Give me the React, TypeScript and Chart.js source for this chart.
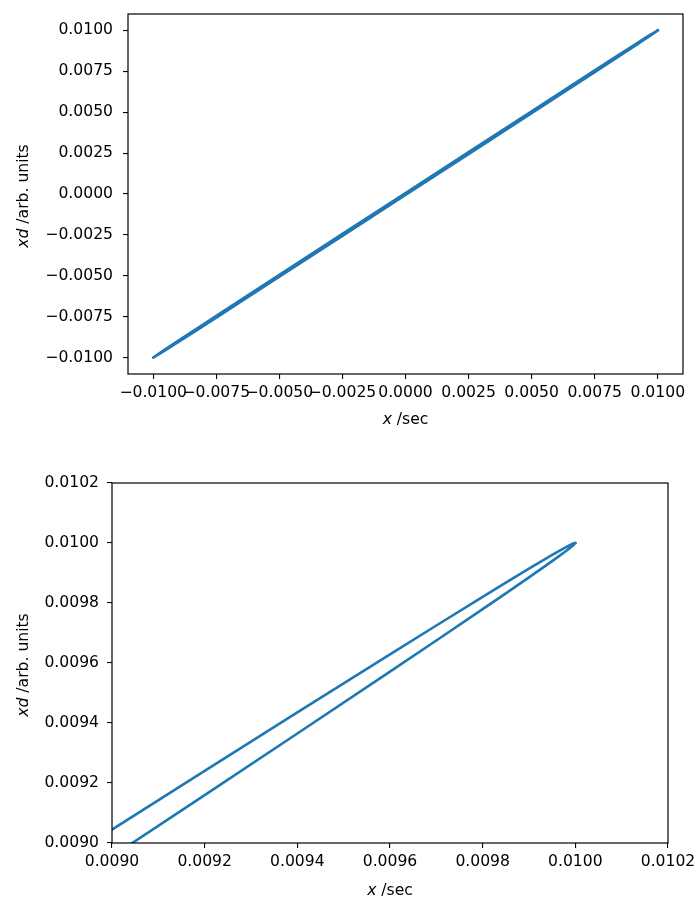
import React, { useEffect, useRef } from 'react';
import { Chart, registerables } from 'chart.js';

Chart.register(...registerables);

// Branch of the loop above the diagonal (x descending)
const upperX = [0.0100, 0.009995, 0.00998, 0.00995, 0.0099, 0.00985, 0.0098, 0.0097, 0.0096, 0.0094, 0.0092, 0.0090, 0.0085, 0.0075, 0.0050, 0.0025, 0.0000, -0.0025, -0.0050, -0.0075, -0.0085, -0.0090, -0.0095, -0.0098, -0.0100];
const upperY = [0.0100000, 0.0099983, 0.0099865, 0.0099603, 0.0099145, 0.0098678, 0.0098205, 0.0097250, 0.0096288, 0.0094351, 0.0092404, 0.0090449, 0.0085490, 0.0075520, 0.0050560, 0.0025600, 0.0000600, -0.0024420, -0.0049450, -0.0074500, -0.0084520, -0.0089560, -0.0094680, -0.0097800, -0.0100000];

// Branch below the diagonal (x ascending)
const lowerX = [-0.0098, -0.0095, -0.0090, -0.0085, -0.0075, -0.0050, -0.0025, 0.0000, 0.0025, 0.0050, 0.0075, 0.0085, 0.0090, 0.0092, 0.0094, 0.0096, 0.0097, 0.0098, 0.00985, 0.0099, 0.00995, 0.00998, 0.009995, 0.0100];
const lowerY = [-0.0098200, -0.0095320, -0.0090440, -0.0085480, -0.0075500, -0.0050550, -0.0025580, -0.0000600, 0.0024420, 0.0049450, 0.0074480, 0.0084510, 0.0089551, 0.0091596, 0.0093649, 0.0095712, 0.0096750, 0.0097795, 0.0098322, 0.0098855, 0.0099397, 0.0099735, 0.0099917, 0.0100000];

// Tick labels
const topTicks = [-0.0100, -0.0075, -0.0050, -0.0025, 0.0000, 0.0025, 0.0050, 0.0075, 0.0100];
const zoomTicks = [0.0090, 0.0092, 0.0094, 0.0096, 0.0098, 0.0100, 0.0102];

const FAMILY = "'DejaVu Sans', sans-serif";
const FS = 15.6;
const LINE_COLOR = '#1f77b4';

function fmt(v: number): string {
  const s = Math.abs(v).toFixed(4);
  return v < -1e-12 ? '\u2212' + s : s;
}

type Part = { text: string; italic?: boolean };

function drawParts(ctx: CanvasRenderingContext2D, parts: Part[], cx: number, cy: number) {
  const fonts = parts.map(p => `${p.italic ? 'italic ' : ''}${FS}px ${FAMILY}`);
  let total = 0;
  const widths = parts.map((p, i) => {
    ctx.font = fonts[i];
    const w = ctx.measureText(p.text).width;
    total += w;
    return w;
  });
  let x = cx - total / 2;
  ctx.textAlign = 'left';
  ctx.textBaseline = 'middle';
  parts.forEach((p, i) => {
    ctx.font = fonts[i];
    ctx.fillText(p.text, x, cy);
    x += widths[i];
  });
}

type Params = {
  xMin: number; xMax: number; yMin: number; yMax: number;
  xTicks: number[]; yTicks: number[];
  padTop: number; padRight: number;
  yWidth: number; xHeight: number;
  yLabelPad: number;
  xTitleOffset: number; yTitleX: number;
};

function makeConfig(p: Params): any {
  const points = [
    ...upperX.map((x, i) => ({ x, y: upperY[i] })),
    ...lowerX.map((x, i) => ({ x, y: lowerY[i] })),
  ];

  const framePlugin = {
    id: 'frame',
    afterDatasetsDraw(chart: any) {
      const { ctx, chartArea: a } = chart;
      ctx.save();
      ctx.strokeStyle = '#000';
      ctx.lineWidth = 1.2;
      ctx.strokeRect(a.left, a.top, a.right - a.left, a.bottom - a.top);
      ctx.restore();
    },
  };

  const titlePlugin = {
    id: 'axisTitles',
    afterDraw(chart: any) {
      const { ctx, chartArea: a } = chart;
      ctx.save();
      ctx.fillStyle = '#000';
      drawParts(ctx, [{ text: 'x', italic: true }, { text: ' /sec' }], (a.left + a.right) / 2, a.bottom + p.xTitleOffset);
      ctx.translate(p.yTitleX, (a.top + a.bottom) / 2 + 2);
      ctx.rotate(-Math.PI / 2);
      drawParts(ctx, [{ text: 'xd', italic: true }, { text: ' /arb. units' }], 0, 0);
      ctx.restore();
    },
  };

  const grid = {
    display: true,
    drawOnChartArea: false,
    drawTicks: true,
    tickLength: 5,
    color: '#000',
    lineWidth: 1.1,
  };

  return {
    type: 'scatter',
    data: {
      datasets: [
        {
          data: points,
          showLine: true,
          borderColor: LINE_COLOR,
          backgroundColor: LINE_COLOR,
          borderWidth: 2.6,
          pointRadius: 0,
          pointHoverRadius: 0,
          tension: 0,
          borderJoinStyle: 'round',
          borderCapStyle: 'square',
          clip: 0,
        },
      ],
    },
    options: {
      animation: false,
      responsive: false,
      maintainAspectRatio: false,
      devicePixelRatio: 1,
      events: [],
      layout: { padding: { left: 0, top: p.padTop, right: p.padRight, bottom: 0 } },
      plugins: { legend: { display: false }, tooltip: { enabled: false }, title: { display: false } },
      scales: {
        x: {
          type: 'linear',
          position: 'bottom',
          min: p.xMin,
          max: p.xMax,
          grid,
          border: { display: false },
          afterBuildTicks: (scale: any) => { scale.ticks = p.xTicks.map(v => ({ value: v })); },
          afterFit: (scale: any) => { scale.height = p.xHeight; scale.paddingLeft = 0; scale.paddingRight = 0; },
          ticks: {
            autoSkip: false,
            maxRotation: 0,
            minRotation: 0,
            padding: 5,
            color: '#000',
            font: { family: FAMILY, size: FS },
            callback: (v: any) => fmt(Number(v)),
          },
        },
        y: {
          type: 'linear',
          position: 'left',
          min: p.yMin,
          max: p.yMax,
          grid,
          border: { display: false },
          afterBuildTicks: (scale: any) => { scale.ticks = p.yTicks.map(v => ({ value: v })); },
          afterFit: (scale: any) => { scale.width = p.yWidth; scale.paddingTop = 0; scale.paddingBottom = 0; },
          ticks: {
            autoSkip: false,
            padding: p.yLabelPad,
            color: '#000',
            font: { family: FAMILY, size: FS },
            callback: (v: any) => fmt(Number(v)),
          },
        },
      },
    },
    plugins: [framePlugin, titlePlugin],
  };
}

const topParams: Params = {
  xMin: -0.011, xMax: 0.011, yMin: -0.011, yMax: 0.011,
  xTicks: topTicks, yTicks: topTicks,
  padTop: 14, padRight: 13,
  yWidth: 128, xHeight: 76,
  yLabelPad: 10,
  xTitleOffset: 45.5, yTitleX: 24,
};

const zoomParams: Params = {
  xMin: 0.0090, xMax: 0.0102, yMin: 0.0090, yMax: 0.0102,
  xTicks: zoomTicks, yTicks: zoomTicks,
  padTop: 33, padRight: 28,
  yWidth: 112, xHeight: 56,
  yLabelPad: 8,
  xTitleOffset: 47.5, yTitleX: 24,
};

export default function App() {
  const r1 = useRef<HTMLCanvasElement>(null);
  const r2 = useRef<HTMLCanvasElement>(null);

  useEffect(() => {
    const c1 = new Chart(r1.current as HTMLCanvasElement, makeConfig(topParams));
    const c2 = new Chart(r2.current as HTMLCanvasElement, makeConfig(zoomParams));
    return () => {
      c1.destroy();
      c2.destroy();
    };
  }, []);

  return (
    <div style={{ position: 'absolute', left: 0, top: 0, width: 696, height: 899, background: '#fff' }}>
      <canvas ref={r1} width={696} height={450} style={{ position: 'absolute', left: 0, top: 0, width: 696, height: 450 }} />
      <canvas ref={r2} width={696} height={449} style={{ position: 'absolute', left: 0, top: 450, width: 696, height: 449 }} />
    </div>
  );
}
